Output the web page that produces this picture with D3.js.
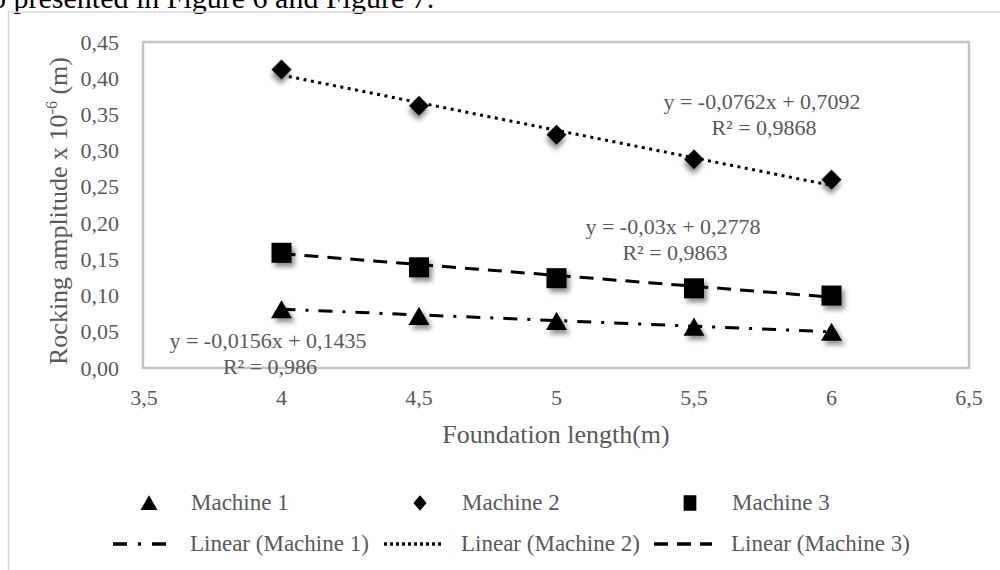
<!DOCTYPE html>
<html>
<head>
<meta charset="utf-8">
<script src="https://cdn.jsdelivr.net/npm/d3@7"></script>
<style>
  body { margin: 0; background: #fff; }
  svg text { font-family: "Liberation Serif", "DejaVu Serif", serif; }
</style>
</head>
<body>
<div id="chart"></div>
<script>
// Data
var lengths = [4, 4.5, 5, 5.5, 6];
var machine1 = [0.081, 0.072, 0.065, 0.057, 0.050];
var machine2 = [0.412, 0.362, 0.322, 0.288, 0.260];
var machine3 = [0.159, 0.139, 0.124, 0.110, 0.100];
var seriesNames = ["Machine 1", "Machine 2", "Machine 3"];
// trend line coefficients [slope, intercept]
var trendCoef = [[-0.0156, 0.1435], [-0.0762, 0.7092], [-0.03, 0.2778]];
var trendEq = ["y = -0,0156x + 0,1435", "y = -0,0762x + 0,7092", "y = -0,03x + 0,2778"];
var trendR2 = ["R² = 0,986", "R² = 0,9868", "R² = 0,9863"];
var xTicks = [3.5, 4, 4.5, 5, 5.5, 6, 6.5];
var yTicks = [0, 0.05, 0.1, 0.15, 0.2, 0.25, 0.3, 0.35, 0.4, 0.45];

(function() {
  var W = 1000, H = 570
  var plot = { left: 144, right: 969, top: 42, bottom: 368 }
  var grey = "#595959"

  var svg = d3.select("#chart").append("svg")
    .attr("width", W).attr("height", H)

  // soft drop shadow like the Excel markers
  svg.append("defs").append("filter").attr("id", "shadow")
    .attr("x", "-60%").attr("y", "-60%").attr("width", "220%").attr("height", "220%")
    .append("feDropShadow")
    .attr("dx", 3).attr("dy", 4).attr("stdDeviation", 2.5)
    .attr("flood-color", "#000").attr("flood-opacity", 0.45)

  // cropped body text above the figure
  svg.append("text")
    .text("o presented in Figure 6 and Figure 7.")
    .attr("x", -9).attr("y", 7.5)
    .attr("font-size", 30).attr("fill", "#000")

  // outer chart frame
  svg.append("rect")
    .attr("x", 8.5).attr("y", 12).attr("width", W + 10).attr("height", H)
    .attr("fill", "none").attr("stroke", "#d9d9d9").attr("stroke-width", 1.5)

  var x = d3.scaleLinear().domain([3.5, 6.5]).range([plot.left, plot.right])
  var y = d3.scaleLinear().domain([0, 0.45]).range([plot.bottom, plot.top])

  // plot area border
  svg.append("rect")
    .attr("x", plot.left - 1).attr("y", plot.top)
    .attr("width", plot.right - plot.left + 1).attr("height", plot.bottom - plot.top)
    .attr("fill", "none").attr("stroke", "#c4c4c4").attr("stroke-width", 2.5)

  // y ticks
  svg.append("g").selectAll("text")
    .data(yTicks)
    .enter().append("text")
    .attr("x", 119)
    .attr("y", function(d) { return y(d) + 7.5 })
    .attr("text-anchor", "end")
    .attr("font-size", 22)
    .attr("fill", grey)
    .text(function(d) { return d3.format(".2f")(d).replace(".", ",") })

  // x ticks
  svg.append("g").selectAll("text")
    .data(xTicks)
    .enter().append("text")
    .attr("x", function(d) { return x(d) })
    .attr("y", 405)
    .attr("text-anchor", "middle")
    .attr("font-size", 22)
    .attr("fill", grey)
    .text(function(d) { return String(d).replace(".", ",") })

  // axis titles
  svg.append("text")
    .attr("x", 556).attr("y", 443)
    .attr("text-anchor", "middle")
    .attr("font-size", 26)
    .attr("fill", grey)
    .text("Foundation length(m)")

  var yt = svg.append("text")
    .attr("transform", "translate(67,211) rotate(-90)")
    .attr("text-anchor", "middle")
    .attr("font-size", 26)
    .attr("fill", grey)
  yt.append("tspan").text("Rocking amplitude x 10")
  yt.append("tspan").attr("dy", -10).attr("font-size", 16).text("-6")
  yt.append("tspan").attr("dy", 10).text(" (m)")

  var dashes = ["14,10,3,10", "3,4.5", "14,9"]

  // trend lines from x = 4 to x = 6
  var line = d3.line().x(function(d) { return x(d[0]) }).y(function(d) { return y(d[1]) })
  trendCoef.forEach(function(c, i) {
    var ends = [4, 6].map(function(v) { return [v, c[0] * v + c[1]] })
    svg.append("path")
      .attr("d", line(ends))
      .attr("fill", "none")
      .attr("stroke", "#000")
      .attr("stroke-width", 3)
      .attr("stroke-dasharray", dashes[i])
  })

  // markers
  var tri = d3.symbol().type(d3.symbolTriangle)
  var sq = d3.symbol().type(d3.symbolSquare)
  var markerPath = [tri.size(190)(), sq.size(200)(), sq.size(400)()]
  var markerTf = ["translate(0,3)", "rotate(45)", ""]
  var series = [machine1, machine2, machine3]
  series.forEach(function(vals, i) {
    svg.append("g").selectAll("path")
      .data(vals)
      .enter().append("path")
      .attr("d", markerPath[i])
      .attr("transform", function(d, j) {
        return "translate(" + x(lengths[j]) + "," + y(d) + ") " + markerTf[i]
      })
      .attr("fill", "#000")
      .attr("filter", "url(#shadow)")
  })

  // trend equations
  var eqPos = [[268, 348], [762, 109], [673, 234]]
  trendEq.forEach(function(t, i) {
    svg.append("text")
      .attr("x", eqPos[i][0]).attr("y", eqPos[i][1])
      .attr("text-anchor", "middle")
      .attr("font-size", 22).attr("fill", grey)
      .text(t)
    svg.append("text")
      .attr("x", eqPos[i][0] + 2).attr("y", eqPos[i][1] + 26)
      .attr("text-anchor", "middle")
      .attr("font-size", 22).attr("fill", grey)
      .text(trendR2[i])
  })

  // legend
  var legX = [149, 420, 690]
  var legPath = [tri.size(125)(), sq.size(120)(), sq.size(200)()]
  var legTf = ["translate(0,2)", "scale(0.85,1) rotate(45)", "scale(0.9,1.1)"]
  var legDash = ["14,11,3,11", "3,3", "14,9"]
  seriesNames.forEach(function(name, i) {
    svg.append("path")
      .attr("d", legPath[i])
      .attr("transform", "translate(" + legX[i] + ",503) " + legTf[i])
      .attr("fill", "#000")
    svg.append("text")
      .attr("x", legX[i] + 42).attr("y", 510)
      .attr("font-size", 23).attr("fill", grey)
      .text(name)

    svg.append("line")
      .attr("x1", legX[i] - 36).attr("x2", legX[i] + 22)
      .attr("y1", 544).attr("y2", 544)
      .attr("stroke", "#000")
      .attr("stroke-width", 3.5)
      .attr("stroke-dasharray", legDash[i])
    svg.append("text")
      .attr("x", legX[i] + 41).attr("y", 551)
      .attr("font-size", 23).attr("fill", grey)
      .text("Linear (" + name + ")")
  })
})();
</script>
</body>
</html>
